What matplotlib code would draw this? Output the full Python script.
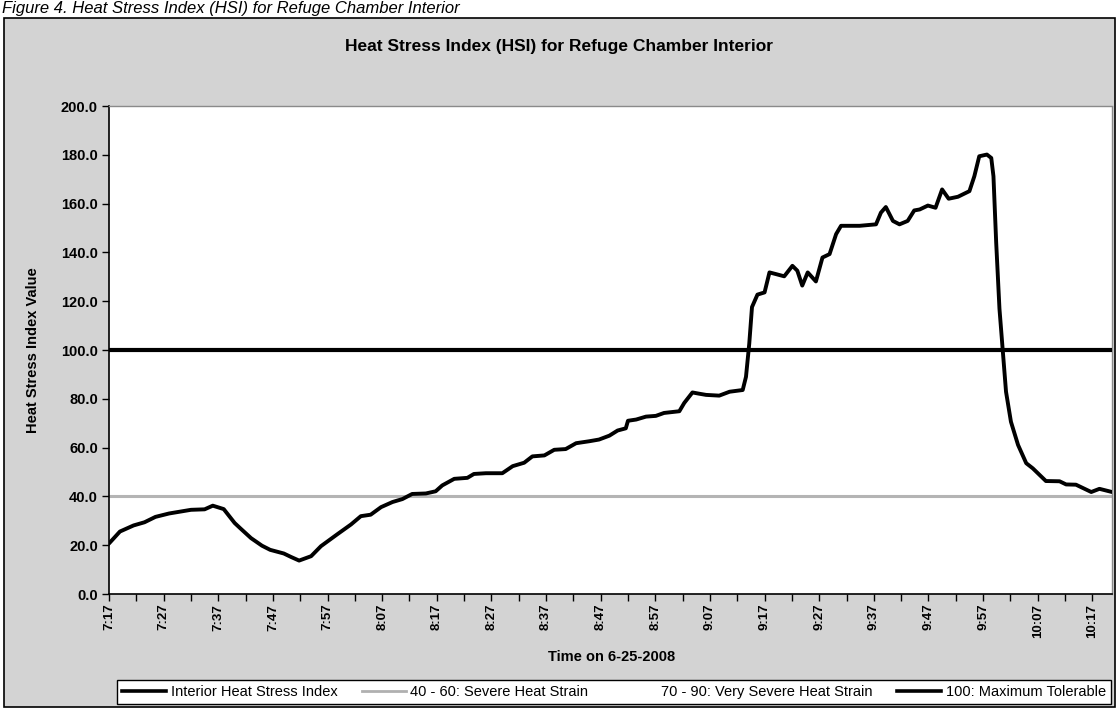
import matplotlib
matplotlib.use("Agg")
import matplotlib.pyplot as plt
from matplotlib.lines import Line2D
from matplotlib.patches import Rectangle

plt.rcParams['font.family'] = ['Liberation Sans', 'DejaVu Sans']

# ---- data (minutes after 7:17 on 6-25-2008, HSI value) ----
minutes = [0, 2, 4.5, 6.5, 8.5, 11, 15, 17.5, 19, 21, 23, 24, 26, 28, 29.5, 32, 33.3,
           34.8, 37, 38.8, 41.8, 44.3, 46.1, 47.9, 49.8, 51.9, 53.7, 55.5, 58, 59.8,
           61, 63.2, 65.6, 66.8, 69, 72, 73.9, 76, 77.5, 79.7, 81.5, 83.6, 85.5, 87.9,
           89.7, 91.6, 93.1, 94.6, 95.0, 96.5, 98.3, 100.1, 101.6, 104.4, 105.3, 106.8,
           108, 109.3, 111.7, 113.6, 116, 116.6, 117.2, 117.7, 118.7, 120, 120.9, 122.1,
           123.6, 125.1, 126, 126.9, 127.9, 129.4, 130.6, 131.9, 133.1, 134, 137.4,
           140.4, 141.3, 142.2, 143.5, 144.7, 146.2, 147.4, 148.4, 149.9, 151.3, 152.5,
           153.7, 155.4, 157.5, 158.4, 159.3, 160.7, 161.5, 161.9, 162.4, 163, 163.6,
           164.2, 165.1, 166.4, 167.9, 169.1, 171.5, 174, 175.2, 177, 179.8, 181.3, 183.6]
hsi = [20.7, 25.6, 28.1, 29.4, 31.6, 33.0, 34.5, 34.7, 36.2, 34.8, 29.1, 27.0, 22.9,
       19.8, 18.1, 16.6, 15.2, 13.7, 15.5, 19.6, 24.5, 28.5, 31.9, 32.5, 35.6, 37.7,
       38.9, 41.0, 41.2, 42.1, 44.5, 47.2, 47.6, 49.2, 49.5, 49.5, 52.4, 53.8, 56.4,
       56.8, 59.1, 59.4, 61.8, 62.6, 63.3, 64.9, 67.0, 67.9, 71.0, 71.5, 72.7, 73.0,
       74.2, 74.9, 78.3, 82.6, 82.1, 81.6, 81.3, 82.9, 83.6, 89.0, 102.6, 117.6, 122.7,
       123.6, 131.8, 131.1, 130.2, 134.5, 132.5, 126.4, 131.8, 128.1, 137.9, 139.3,
       147.5, 150.9, 150.9, 151.5, 156.3, 158.6, 152.9, 151.5, 152.9, 157.2, 157.6,
       159.2, 158.3, 165.8, 162.0, 162.8, 165.1, 171.2, 179.4, 180.1, 178.7, 171.2,
       144.0, 116.9, 99.9, 82.9, 70.6, 61.1, 53.6, 51.5, 46.3, 46.2, 44.9, 44.8, 41.8,
       43.1, 41.8]
tick_minutes = [0, 10, 20, 30, 40, 50, 60, 70, 80, 90, 100, 110, 120, 130, 140, 150, 160, 170, 180]
tick_labels = ["7:17", "7:27", "7:37", "7:47", "7:57", "8:07", "8:17", "8:27", "8:37", "8:47",
               "8:57", "9:07", "9:17", "9:27", "9:37", "9:47", "9:57", "10:07", "10:17"]
y_ticks = [0, 20, 40, 60, 80, 100, 120, 140, 160, 180, 200]
severe_level = 40
very_severe_level = 70
max_tolerable = 100

W, H = 1119, 709
fig = plt.figure(figsize=(W / 100, H / 100), dpi=100, facecolor='white')

# chart area background + border
fig.patches.append(Rectangle((4 / W, 1 - 707 / H), (1115 - 4) / W, (707 - 18) / H,
                             transform=fig.transFigure, facecolor='#d3d3d3',
                             edgecolor='black', lw=1.2, zorder=-5))

# caption at top
fig.text(2 / W, 1 - 13 / H, "Figure 4. Heat Stress Index (HSI) for Refuge Chamber Interior",
         style='italic', fontsize=12, ha='left', va='baseline')

left, right, top, bottom = 109, 1112, 106, 594
ax = fig.add_axes([left / W, 1 - bottom / H, (right - left) / W, (bottom - top) / H])
ax.set_facecolor('white')

ax.axhline(severe_level, color='#b4b4b4', lw=2.2, zorder=2)
ax.axhline(very_severe_level, color='white', lw=2.2, zorder=2)
ax.axhline(max_tolerable, color='black', lw=3.0, zorder=3)
ax.plot(minutes, hsi, color='black', lw=2.8, solid_joinstyle='round',
        solid_capstyle='round', zorder=4)

ax.set_xlim(0, 183.6)
ax.set_ylim(0, 200)

ax.set_yticks(y_ticks)
ax.set_yticklabels([f"{v:.1f}" for v in y_ticks], fontweight='bold', fontsize=10.5)
ax.set_xticks(tick_minutes)
ax.set_xticks([m + 5 for m in tick_minutes[:-1]], minor=True)
ax.set_xticklabels(tick_labels, rotation=90, fontweight='bold', fontsize=9.5)
ax.tick_params(axis='y', direction='out', length=5, width=1, pad=3)
ax.tick_params(axis='x', which='both', direction='out', length=5, width=1, pad=2)

for s in ['top', 'right']:
    ax.spines[s].set_color('#8a8a8a')
    ax.spines[s].set_linewidth(1)
    ax.spines[s].set_linestyle((0, (1, 1)))
for s in ['left', 'bottom']:
    ax.spines[s].set_color('black')
    ax.spines[s].set_linewidth(1.2)

fig.text(33 / W, 1 - 350 / H, "Heat Stress Index Value", rotation=90, fontweight='bold',
         fontsize=10.5, ha='center', va='center')
fig.text(612 / W, 1 - 657 / H, "Time on 6-25-2008", fontweight='bold', fontsize=10.5,
         ha='center', va='center')
fig.text(559 / W, 1 - 47 / H, "Heat Stress Index (HSI) for Refuge Chamber Interior",
         fontweight='bold', fontsize=12.5, ha='center', va='center')

handles = [Line2D([], [], color='black', lw=2.6),
           Line2D([], [], color='#b0b0b0', lw=2.0),
           Line2D([], [], color='white', lw=2.0),
           Line2D([], [], color='black', lw=2.6)]
labels = ["Interior Heat Stress Index", "40 - 60: Severe Heat Strain",
          "70 - 90: Very Severe Heat Strain", "100: Maximum Tolerable"]
leg = fig.legend(handles, labels, loc='center', bbox_to_anchor=(614 / W, 1 - 692 / H),
                 ncol=4, frameon=True, fancybox=False, edgecolor='black', framealpha=1,
                 fontsize=10.5, handlelength=3.0, handletextpad=0.3, columnspacing=1.7,
                 borderpad=0.35, borderaxespad=0)
leg.get_frame().set_linewidth(1.0)

fig.savefig("out.png", dpi=100, facecolor=fig.get_facecolor())
